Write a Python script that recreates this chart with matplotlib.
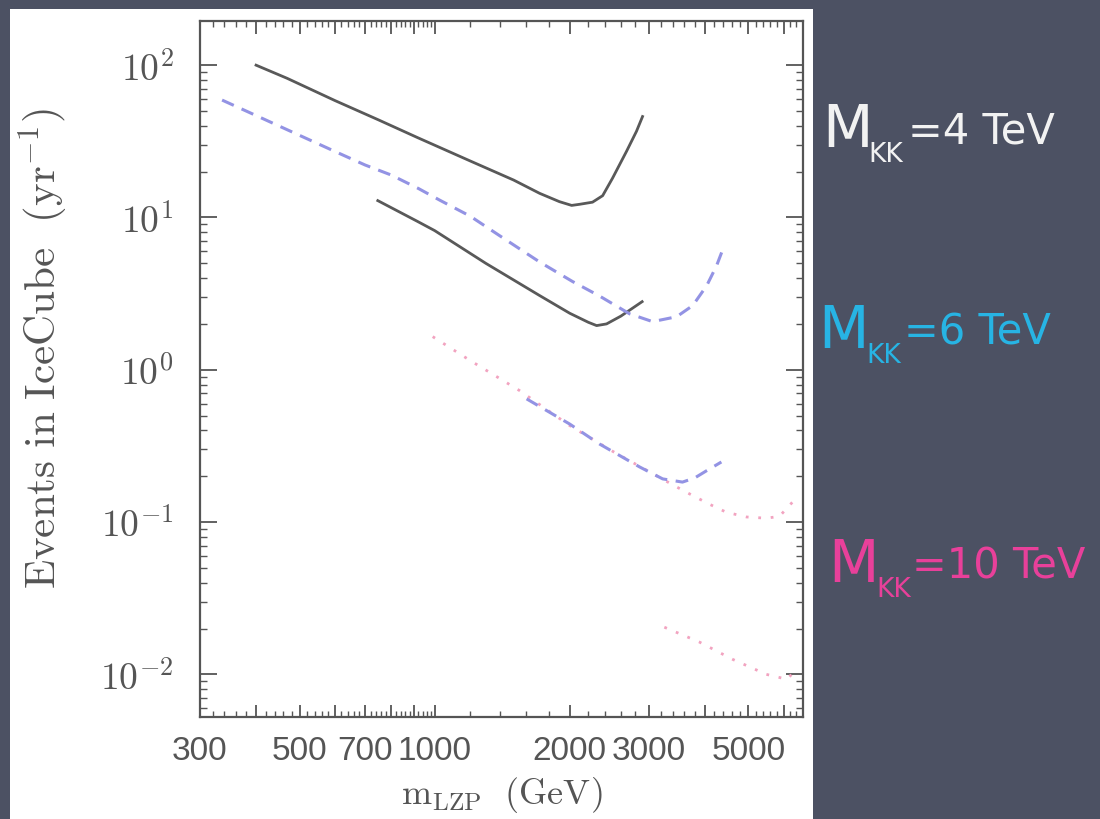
import matplotlib
matplotlib.use("Agg")
import matplotlib.pyplot as plt
from matplotlib.patches import Rectangle
from matplotlib.ticker import FixedLocator, NullFormatter

plt.rcParams['mathtext.fontset'] = 'cm'

# solid curves
solid_hi_m = [400, 469, 600, 750, 917, 1200, 1500, 1714, 1897, 2020, 2103, 2248, 2368, 2491, 2677, 2817, 2906]
solid_hi_n = [100, 82, 58.5, 43.7, 33.4, 23.5, 17.6, 14.4, 12.7, 12.0, 12.2, 12.6, 13.9, 18.1, 27.2, 36.8, 46]
solid_lo_m = [747, 917, 1000, 1300, 1714, 2000, 2200, 2296, 2416, 2600, 2900]
solid_lo_n = [12.9, 9.4, 8.2, 5.0, 3.07, 2.35, 2.05, 1.95, 2.0, 2.25, 2.8]

# dashed curves
dash_hi_m = [336, 400, 500, 600, 700, 800, 920, 1026, 1200, 1395, 1714, 2028, 2330, 2719, 3060, 3462, 3760, 4040, 4250, 4380]
dash_hi_n = [59, 46.7, 34.6, 27.1, 22.1, 19.0, 15.5, 13.0, 10.2, 7.6, 5.1, 3.8, 3.05, 2.33, 2.07, 2.23, 2.64, 3.57, 4.83, 6.1]
dash_lo_m = [1603, 2000, 2328, 2863, 3223, 3567, 3800, 4033, 4355]
dash_lo_n = [0.644, 0.44, 0.326, 0.23, 0.192, 0.183, 0.195, 0.217, 0.248]

# dotted curves
dot_hi_m = [990, 1200, 1546, 2000, 2500, 3000, 3400, 3700, 4095, 4467, 4951, 5485, 5866, 6270, 6500]
dot_hi_n = [1.65, 1.15, 0.73, 0.43, 0.29, 0.215, 0.175, 0.153, 0.131, 0.116, 0.108, 0.106, 0.109, 0.135, 0.146]
dot_lo_m = [3250, 3890, 4610, 5485, 6110, 6240]
dot_lo_n = [0.0204, 0.0163, 0.01256, 0.0100, 0.00927, 0.0100]

x_labeled = [300, 500, 700, 1000, 2000, 3000, 5000]
x_mid = [300, 400, 500, 600, 700, 800, 900, 1000, 2000, 3000, 4000, 5000, 6000]
y_ticks = [1e2, 1e1, 1e0, 1e-1, 1e-2]
y_ticklabels = [r'$10^{2}$', r'$10^{1}$', r'$10^{0}$', r'$10^{-1}$', r'$10^{-2}$']

labels = ['=4 TeV', '=6 TeV', '=10 TeV']
label_colors = ['#f2f2f2', '#27b4e4', '#e8409a']

W, H = 1100, 820
fig = plt.figure(figsize=(11, 8.2), dpi=100)
fig.patch.set_facecolor('#4c5163')
fig.patches.append(Rectangle((10 / W, 0), 803 / W, 810 / H, transform=fig.transFigure,
                             facecolor='white', edgecolor='none', zorder=-10))

ax = fig.add_axes([200 / W, 1 - 718 / H, 603 / W, 696 / H])
ax.set_zorder(1)
ax.set_xscale('log')
ax.set_yscale('log')
ax.set_xlim(300, 6620)
ax.set_ylim(10 ** -2.28, 10 ** 2.29)

ax.plot(solid_hi_m, solid_hi_n, color='#595959', lw=2.0)
ax.plot(solid_lo_m, solid_lo_n, color='#595959', lw=2.0)
ax.plot(dot_hi_m, dot_hi_n, color='#f2a3c0', lw=2.0, linestyle=(0, (1, 3.5)))
ax.plot(dot_lo_m, dot_lo_n, color='#f2a3c0', lw=2.0, linestyle=(0, (1, 3.5)))
ax.plot(dash_hi_m, dash_hi_n, color='#9393e4', lw=2.2, dashes=(4.2, 2.8))
ax.plot(dash_lo_m, dash_lo_n, color='#9393e4', lw=2.2, dashes=(4.2, 2.8))

# x ticks
ax.xaxis.set_major_locator(FixedLocator(x_mid))
ax.set_xticklabels([str(v) if v in x_labeled else '' for v in x_mid])
minor_x = list(range(320, 1000, 20)) + list(range(1200, 6600, 200))
ax.xaxis.set_minor_locator(FixedLocator(minor_x))
ax.xaxis.set_minor_formatter(NullFormatter())

ax.set_yticks(y_ticks)
ax.set_yticklabels(y_ticklabels)

ax.tick_params(which='both', direction='in', top=True, right=True, color='#555555')
ax.tick_params(axis='x', which='major', length=9, width=1.3, pad=13, labelsize=24, labelcolor='#555555')
ax.tick_params(axis='x', which='minor', length=4, width=1.0)
ax.tick_params(axis='y', which='major', length=12, width=1.3, pad=19, labelsize=27, labelcolor='#555555')
ax.tick_params(axis='y', which='minor', length=5, width=1.0)
for lab in ax.get_xticklabels():
    lab.set_family('Liberation Sans')

for sp in ax.spines.values():
    sp.set_color('#555555')
    sp.set_linewidth(1.6)

ax.set_xlabel(r'$\mathrm{m}_{\mathrm{LZP}}\ \ \mathrm{(GeV)}$', fontsize=26, color='#555555')
ax.xaxis.set_label_coords(0.5, -0.082)
ax.set_ylabel(r'$\mathrm{Events\ in\ IceCube\ \ (yr^{-1})}$', fontsize=31, color='#555555')
ax.yaxis.set_label_coords(-0.214, 0.53)

# right-hand labels
rows = [(822, 147, 868, 162, 908), (818, 348, 866, 363, 904), (828, 582, 876, 597, 912)]
for (mx, my, kx, ky, tx), lab, c in zip(rows, labels, label_colors):
    fig.text(mx / W, 1 - my / H, 'M', fontsize=42, color=c, ha='left', va='baseline', family='DejaVu Sans')
    fig.text(kx / W, 1 - ky / H, 'KK', fontsize=19, color=c, ha='left', va='baseline', family='DejaVu Sans')
    fig.text(tx / W, 1 - (my - 3) / H, lab, fontsize=30, color=c, ha='left', va='baseline', family='DejaVu Sans')

fig.savefig('out.png', dpi=100, facecolor=fig.get_facecolor())
